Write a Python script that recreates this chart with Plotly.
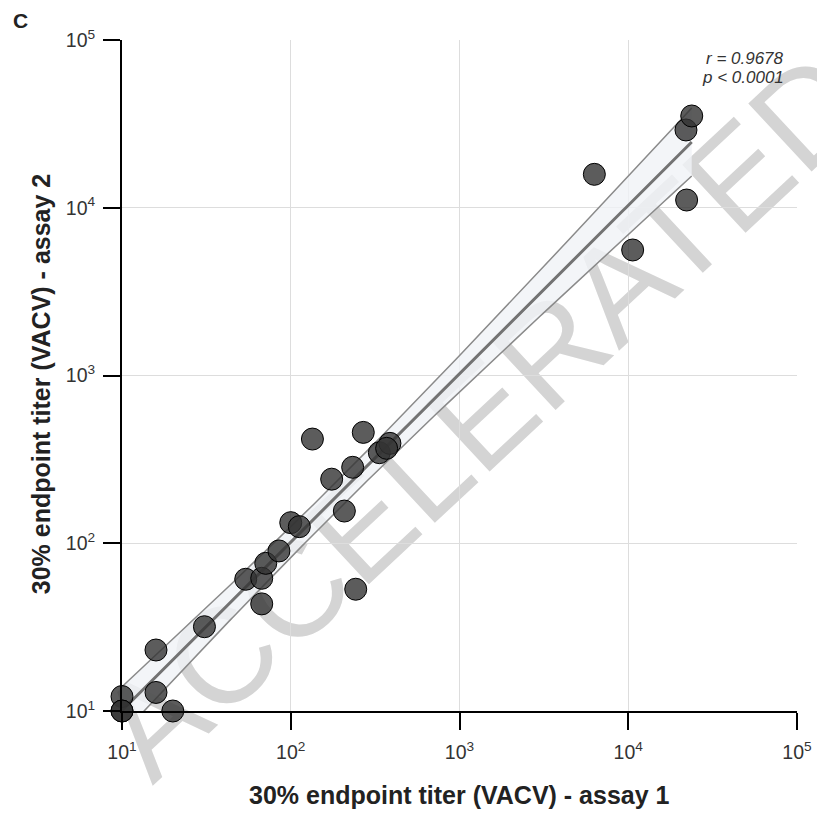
import numpy as np
import plotly.graph_objects as go

# 30% endpoint titers (VACV), assay 1 vs assay 2
assay1 = [10, 10, 10, 15.9, 15.9, 20, 30.8, 67.3, 54.1, 67.3, 71.1, 85.1, 100, 112.4,
          134.4, 174.8, 207.8, 232.8, 269, 242.7, 335, 387, 370,
          6296, 10620, 22180, 21980, 23780]
assay2 = [12.2, 10, 10, 23.1, 12.9, 10, 31.8, 43.5, 61, 61.8, 75.9, 90, 132.7, 125.6,
          418, 241, 155.6, 283.6, 458, 53.2, 346.6, 394, 368,
          15820, 5600, 11120, 29080, 35240]

tick_vals = [10, 100, 1000, 10000, 100000]
tick_text = ["10<sup>1</sup>", "10<sup>2</sup>", "10<sup>3</sup>", "10<sup>4</sup>", "10<sup>5</sup>"]
x_title = "<b>30% endpoint titer (VACV) - assay 1</b>"
y_title = "<b>30% endpoint titer (VACV) - assay 2</b>"
r_text = "<i>r = 0.9678</i>"
p_text = "<i>p < 0.0001</i>"
T_CRIT = 2.056  # two-sided 95% t quantile, df = n - 2

# linear regression on log10 titers with 95% confidence band
lx = np.log10(np.array(assay1, dtype=float))
ly = np.log10(np.array(assay2, dtype=float))
n = len(lx)
slope, intercept = np.polyfit(lx, ly, 1)
resid = ly - (slope * lx + intercept)
s = np.sqrt(np.sum(resid ** 2) / (n - 2))
sxx = np.sum((lx - lx.mean()) ** 2)
gx = np.linspace(lx.min(), lx.max(), 200)
gy = slope * gx + intercept
half = T_CRIT * s * np.sqrt(1.0 / n + (gx - lx.mean()) ** 2 / sxx)

FONT = "Liberation Sans, Arial, sans-serif"

fig = go.Figure()
fig.add_trace(go.Scatter(x=10 ** gx, y=10 ** (gy - half), mode="lines",
                         line=dict(color="#8a8a8a", width=1.5), hoverinfo="skip"))
fig.add_trace(go.Scatter(x=10 ** gx, y=10 ** (gy + half), mode="lines",
                         line=dict(color="#8a8a8a", width=1.5),
                         fill="tonexty", fillcolor="rgba(240,242,246,0.8)", hoverinfo="skip"))
fig.add_trace(go.Scatter(x=10 ** gx, y=10 ** gy, mode="lines",
                         line=dict(color="#737373", width=3), hoverinfo="skip"))
fig.add_trace(go.Scatter(x=assay1, y=assay2, mode="markers", cliponaxis=False,
                         marker=dict(size=22, color="rgba(51,51,51,0.8)",
                                     line=dict(color="#000000", width=1))))

axis_common = dict(
    type="log", range=[1, 5], tickvals=tick_vals, ticktext=tick_text,
    automargin=False,
    showgrid=True, gridcolor="#dddddd", gridwidth=1, zeroline=False,
    showline=True, linecolor="#000000", linewidth=2,
    ticks="outside", ticklen=17, tickwidth=2, tickcolor="#000000",
    tickfont=dict(family=FONT, size=19.5, color="#333333"),
)

title_font = dict(family=FONT, size=25, color="#222222")

fig.update_layout(
    width=817, height=813,
    margin=dict(l=122, r=20, t=40, b=102),
    paper_bgcolor="white", plot_bgcolor="white",
    showlegend=False,
    xaxis=dict(axis_common, ticklabelstandoff=6),
    yaxis=dict(axis_common, ticklabelstandoff=4),
    annotations=[
        dict(text=x_title, xref="paper", yref="paper", x=0.5, y=-0.125,
             xanchor="center", yanchor="middle", showarrow=False, font=title_font),
        dict(text=y_title, xref="paper", yref="paper", x=-0.12, y=0.487,
             xanchor="center", yanchor="middle", textangle=-90, showarrow=False,
             font=title_font),
        dict(text="<b>C</b>", xref="paper", yref="paper", x=-0.165, y=1.029,
             xanchor="left", yanchor="middle", showarrow=False,
             font=dict(family=FONT, size=21, color="#222222")),
        dict(text=r_text, xref="paper", yref="paper", x=0.983, y=0.973,
             xanchor="right", yanchor="middle", showarrow=False,
             font=dict(family=FONT, size=17, color="#333333")),
        dict(text=p_text, xref="paper", yref="paper", x=0.983, y=0.944,
             xanchor="right", yanchor="middle", showarrow=False,
             font=dict(family=FONT, size=17, color="#333333")),
    ],
    shapes=[
        dict(type="line", xref="paper", yref="paper", layer="between",
             x0=0.455, y0=0.40, x1=0.585, y1=0.51,
             line=dict(color="rgba(0,0,0,0)", width=0),
             label=dict(text="ACCELERATED", textangle=-43, textposition="middle",
                        xanchor="center", yanchor="middle",
                        font=dict(family=FONT, size=135, color="#d4d4d4"))),
    ],
)

fig.write_html("out.html")
